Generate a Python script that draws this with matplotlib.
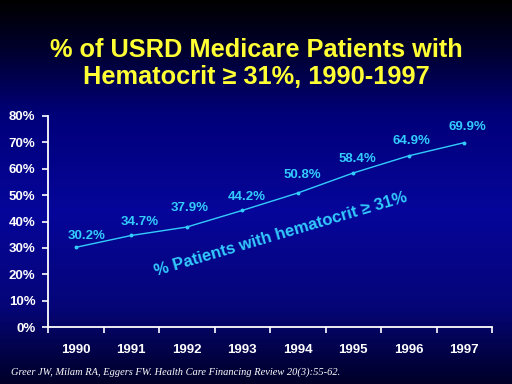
"""
% of USRD Medicare patients with hematocrit >= 31%, 1990-1997
"""
import numpy as np
import matplotlib.pyplot as plt
from matplotlib.colors import LinearSegmentedColormap

years = ["1990", "1991", "1992", "1993", "1994", "1995", "1996", "1997"]
pct_values = [30.2, 34.7, 37.9, 44.2, 50.8, 58.4, 64.9, 69.9]
y_ticks = [0, 10, 20, 30, 40, 50, 60, 70, 80]

# label nudges in points (dx, dy) relative to each data point
label_offsets = [(8, 8), (6, 10), (2, 14), (3, 10), (3, 13), (3, 10), (2, 11), (2, 11)]

title = "% of USRD Medicare Patients with\nHematocrit \u2265 31%, 1990-1997"
series_label = "% Patients with hematocrit \u2265 31%"
citation = "Greer JW, Milam RA, Eggers FW. Health Care Financing Review 20(3):55-62."

CYAN = "#33ccff"
YELLOW = "#ffff33"

fig = plt.figure(figsize=(5.12, 3.84), dpi=100)

# background gradient: black at the top, blue in the middle, dark at bottom
bg = fig.add_axes([0, 0, 1, 1])
cmap = LinearSegmentedColormap.from_list(
    "bg", [(0.0, "#000000"), (0.12, "#00002a"), (0.3, "#00007a"),
           (0.55, "#06069a"), (0.8, "#050578"), (1.0, "#000028")])
grad = np.linspace(0, 1, 256).reshape(-1, 1)
bg.imshow(grad, aspect="auto", cmap=cmap, extent=[0, 1, 0, 1], origin="upper")
bg.axis("off")

fig.text(0.5, 0.835, title, ha="center", va="center", color=YELLOW,
         fontsize=18.3, fontweight="bold", family="Liberation Sans",
         linespacing=1.15)

ax = fig.add_axes([48 / 512, 1 - 327 / 384, 444 / 512, 211 / 384])
ax.patch.set_alpha(0)
x = np.arange(len(years))
ax.plot(x, pct_values, color=CYAN, lw=1.0, marker="o", ms=1.8)

for xi, v, (dx, dy) in zip(x, pct_values, label_offsets):
    ax.annotate(f"{v:.1f}%", (xi, v), xytext=(dx, dy), textcoords="offset points",
                ha="center", va="center", color=CYAN, fontsize=9.5,
                fontweight="bold", family="Liberation Sans")

ax.text(0.525, 0.44, series_label, transform=ax.transAxes, rotation=16.5,
        ha="center", va="center", color=CYAN, fontsize=12,
        fontweight="bold", family="Liberation Sans", rotation_mode="anchor")

ax.set_xlim(-0.5, len(years) - 0.5)
ax.set_ylim(0, 80)
ax.set_yticks(y_ticks)
ax.set_yticklabels([f"{t}%" for t in y_ticks])
ax.set_xticks(x)
ax.set_xticklabels(years)
ax.set_xticks(np.arange(-0.5, len(years)), minor=True)
ax.tick_params(axis="x", which="major", length=0, pad=12)
ax.tick_params(axis="x", which="minor", length=4, width=1.2, color="white", direction="out")
ax.tick_params(axis="y", length=4, width=1.2, color="white", direction="out", pad=5)
for lab in ax.get_xticklabels() + ax.get_yticklabels():
    lab.set_color("white")
    lab.set_fontweight("bold")
    lab.set_family("Liberation Sans")
for lab in ax.get_xticklabels():
    lab.set_fontsize(9.5)
for lab in ax.get_yticklabels():
    lab.set_fontsize(9.5)

for side in ["top", "right"]:
    ax.spines[side].set_visible(False)
for side in ["left", "bottom"]:
    ax.spines[side].set_color("white")
    ax.spines[side].set_linewidth(1.3)

fig.text(11 / 512, 1 - 372 / 384, citation, ha="left", va="center", color="white",
         fontsize=7.5, style="italic", family="Liberation Serif")

fig.savefig("out.png", dpi=100)
